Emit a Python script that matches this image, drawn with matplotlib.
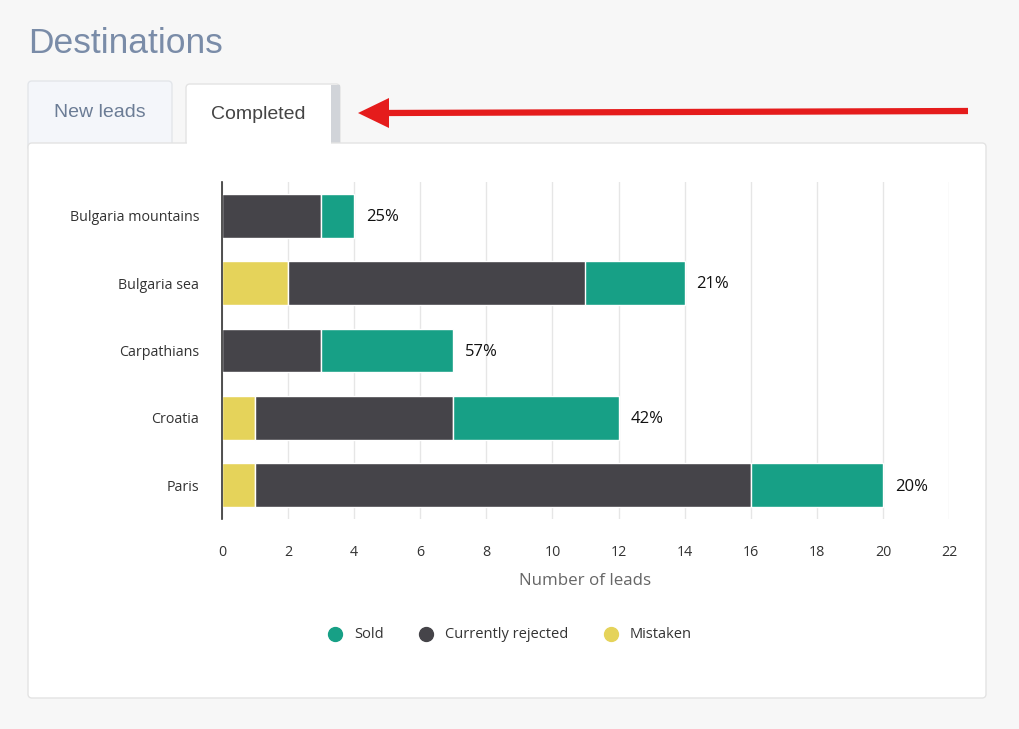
import matplotlib.pyplot as plt
from matplotlib.patches import FancyBboxPatch, Rectangle, Polygon
from matplotlib.lines import Line2D

destinations = ["Bulgaria mountains", "Bulgaria sea", "Carpathians", "Croatia", "Paris"]
mistaken = [0, 2, 0, 1, 1]
rejected = [3, 9, 3, 6, 15]
sold = [1, 3, 4, 5, 4]
x_ticks = [0, 2, 4, 6, 8, 10, 12, 14, 16, 18, 20, 22]

c_sold = "#17a086"
c_rej = "#454449"
c_mis = "#e5d35a"

W, H = 1020, 729
fig = plt.figure(figsize=(W / 100, H / 100), dpi=100)
fig.patch.set_facecolor("#f7f7f7")

# page layer in pixel coordinates
bg = fig.add_axes([0, 0, 1, 1])
bg.set_xlim(0, W)
bg.set_ylim(H, 0)
bg.axis("off")

bg.text(28, 43, "Destinations", fontsize=25.5, color="#7a8ca8",
        family="Liberation Sans", va="center", ha="left")

# tabs
bg.add_patch(FancyBboxPatch((28, 81), 144, 70, boxstyle="round,pad=0,rounding_size=4",
                            fc="#f4f6fa", ec="#e3e6ea", lw=1))
bg.add_patch(FancyBboxPatch((186, 84), 154, 70, boxstyle="round,pad=0,rounding_size=4",
                            fc="white", ec="#e3e3e3", lw=1))
bg.add_patch(Rectangle((331, 85), 9, 60, fc="#d1d4d9", ec="none"))
bg.text(100, 112, "New leads", fontsize=14, color="#6b7c95",
        family="Liberation Sans", ha="center", va="center")
bg.text(258, 114, "Completed", fontsize=14, color="#444444",
        family="Liberation Sans", ha="center", va="center")

# panel
bg.add_patch(FancyBboxPatch((28, 143), 958, 555, boxstyle="round,pad=0,rounding_size=4",
                            fc="white", ec="#e3e3e3", lw=1))
bg.add_patch(Rectangle((187, 140), 144, 6, fc="white", ec="none"))

# red arrow
bg.add_line(Line2D([385, 968], [113, 111], color="#e51c1c", lw=4.5, solid_capstyle="butt"))
bg.add_patch(Polygon([(358, 113), (389, 98), (389, 128)], closed=True, fc="#e51c1c", ec="none"))

# chart
ax = fig.add_axes([222 / W, 1 - 519 / H, (949 - 222) / W, (519 - 182) / H])
ax.set_facecolor("none")
y = list(range(len(destinations)))
h = 0.65
ax.barh(y, mistaken, height=h, color=c_mis, edgecolor="white", lw=1, zorder=3)
ax.barh(y, rejected, left=mistaken, height=h, color=c_rej, edgecolor="white", lw=1, zorder=3)
left2 = [m + r for m, r in zip(mistaken, rejected)]
ax.barh(y, sold, left=left2, height=h, color=c_sold, edgecolor="white", lw=1, zorder=3)

for i in y:
    total = left2[i] + sold[i]
    pct = round(100 * sold[i] / total)
    ax.text(total + 0.36, i + 0.02, f"{pct}%", va="center", ha="left", fontsize=12,
            family="Open Sans", color="#111111")

ax.set_xlim(0, 22)
ax.set_ylim(4.5, -0.5)
ax.set_xticks(x_ticks)
ax.set_xticklabels([str(t) for t in x_ticks], family="Open Sans", fontsize=10.3, color="#333333")
ax.set_yticks(y)
ax.set_yticklabels(destinations, family="Open Sans", fontsize=10.3, color="#333333")
ax.tick_params(axis="x", length=0, pad=19)
ax.tick_params(axis="y", length=0, pad=16.5)
ax.grid(axis="x", color="#e6e6e6", lw=1, zorder=0)
for s in ["top", "right", "bottom"]:
    ax.spines[s].set_visible(False)
ax.spines["left"].set_color("#333333")
ax.spines["left"].set_linewidth(1.2)
ax.spines["left"].set_zorder(4)
ax.set_xlabel("Number of leads", family="Open Sans", fontsize=12.2, color="#666666", labelpad=9)

# legend
items = [("Sold", c_sold, 335), ("Currently rejected", c_rej, 426), ("Mistaken", c_mis, 611)]
for label, col, px in items:
    bg.plot(px, 634, "o", ms=10, color=col)
    bg.text(px + 19, 635, label, fontsize=10.5, family="Open Sans", color="#333333",
            va="center", ha="left")

fig.savefig("out.png", dpi=100, facecolor=fig.get_facecolor())
